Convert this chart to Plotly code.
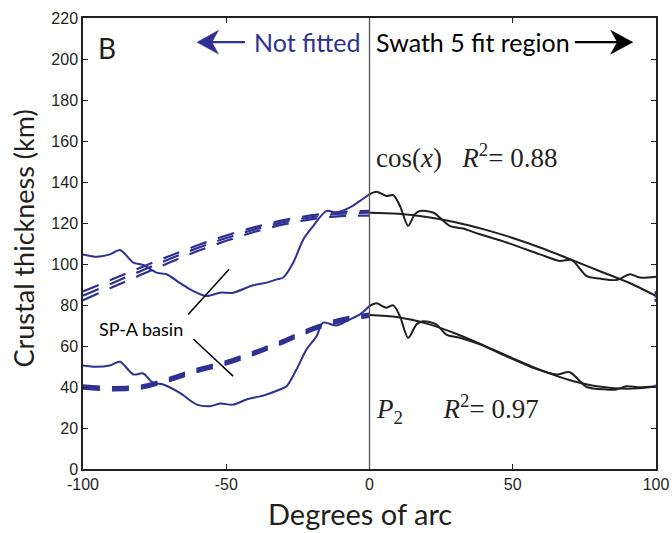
import plotly.graph_objects as go

BLUE = "#2E3192"
INK = "#231F20"

# Crustal thickness profiles (km) along the swath, west of the fit region (blue)
upper_west_x = [-100, -95.2, -90.6, -87.1, -82.4, -79, -74.3, -70.8, -66.2, -61.5, -56.8, -52.2,
                -47.6, -40.6, -35.9, -32.4, -30.1, -26.6, -23.1, -19.6, -15, -11.5, -6.8, -3.3, 0]
upper_west_y = [104.7, 103.5, 104.7, 106.8, 100.7, 99.5, 95.8, 95, 90.8, 86.8, 84.4, 86,
                86, 89.6, 90.9, 92.5, 93.4, 100.7, 112, 118.6, 125.9, 125.1, 127.6, 130.8, 134]
lower_west_x = [-100, -96.4, -90.6, -87.1, -82.4, -79, -75.5, -72, -66.2, -60.3, -55.7, -52.2,
                -47.6, -42.9, -37.1, -31.3, -28.9, -25.5, -22, -18.5, -16.2, -11.5, -6.8, -3.3, 0]
lower_west_y = [50.5, 49.9, 50.5, 52.3, 46.1, 46.6, 42, 41.2, 37.1, 31.4, 30.6, 31.9,
                31.4, 33.9, 35.8, 38.8, 40.4, 48.5, 58.3, 64.8, 71.4, 70, 73, 75.4, 79.5]

# Profiles inside the swath 5 fit region (black)
upper_east_x = [0, 2.4, 5.9, 8.3, 10.6, 13.5, 15.8, 17.6, 22.2, 28, 32.7, 38.5, 47.8, 59.5,
                66.4, 70.5, 75.8, 80.4, 86.2, 90.9, 94.3, 100]
upper_east_y = [134, 135.2, 133.2, 133.6, 128.4, 118.6, 124.3, 125.9, 125.1, 118.6, 117.3, 114.5,
                110.5, 104.7, 101.5, 102, 94.1, 92.9, 92.2, 95, 93.4, 93.8]
lower_east_x = [0, 2.4, 5.9, 8.3, 10.6, 13.5, 16.4, 18.7, 23.3, 26.8, 31.5, 38.5, 47.8, 57.1,
                65.3, 69.9, 75.8, 82.7, 86.2, 89.7, 94.3, 100]
lower_east_y = [79.5, 80.8, 78.7, 79.8, 74.6, 64, 70.5, 72.1, 70.5, 65.6, 64, 60.8, 55, 49.4,
                46.1, 47.2, 40, 38.8, 38.8, 40.4, 39.9, 40.4]

# Fitted curves, sampled every 10 degrees
fit_east_x = [0, 10, 20, 30, 40, 50, 60, 70, 80, 90, 100]
cos_fit_y = [125.0, 124.5, 122.9, 120.4, 116.9, 112.7, 107.8, 102.3, 96.7, 91.2, 84.4]
p2_fit_y = [75.1, 74.0, 70.9, 66.1, 60.2, 54.0, 48.1, 43.3, 40.2, 39.1, 40.2]

# Fits carried over the unfitted western side (dashed)
fit_west_x = [-100, -90, -80, -70, -60, -50, -40, -30, -20, -10, 0]
cos_west_hi = [86.6, 92.4, 98.2, 103.8, 109.1, 113.9, 118.0, 121.4, 123.8, 125.4, 125.9]
cos_west_mid = [84.5, 90.5, 96.5, 102.3, 107.8, 112.7, 116.9, 120.4, 122.9, 124.5, 125.0]
cos_west_lo = [82.3, 88.5, 94.6, 100.6, 106.3, 111.3, 115.7, 119.3, 121.9, 123.4, 123.6]
p2_west_hi = [40.8, 40.0, 40.7, 44.4, 49.0, 52.6, 57.5, 63.0, 69.0, 73.4, 75.8]
p2_west_mid = [40.0, 39.2, 39.9, 43.6, 48.2, 51.8, 56.7, 62.2, 68.2, 72.6, 75.0]
p2_west_lo = [39.2, 38.4, 39.1, 42.8, 47.4, 51.0, 55.9, 61.4, 67.4, 71.8, 74.2]

# Fit end values at the eastern edge
edge_y = [86.0, 84.4, 82.3, 40.4]

x_ticks = [-100, -50, 0, 50, 100]
x_tick_text = ["-100", "-50", "0", "50", "100"]
y_ticks = list(range(0, 221, 20))

fig = go.Figure()

for ys in (cos_west_hi, cos_west_mid, cos_west_lo, p2_west_hi, p2_west_mid, p2_west_lo):
    fig.add_trace(go.Scatter(x=fit_west_x, y=ys, mode="lines",
                             line=dict(color=BLUE, width=2.2, dash="17px,12px", shape="spline")))

fig.add_trace(go.Scatter(x=upper_west_x, y=upper_west_y, mode="lines",
                         line=dict(color=BLUE, width=2, shape="spline", smoothing=0.8)))
fig.add_trace(go.Scatter(x=lower_west_x, y=lower_west_y, mode="lines",
                         line=dict(color=BLUE, width=2, shape="spline", smoothing=0.8)))

fig.add_trace(go.Scatter(x=fit_east_x, y=cos_fit_y, mode="lines",
                         line=dict(color=INK, width=2, shape="spline")))
fig.add_trace(go.Scatter(x=fit_east_x, y=p2_fit_y, mode="lines",
                         line=dict(color=INK, width=2, shape="spline")))
fig.add_trace(go.Scatter(x=upper_east_x, y=upper_east_y, mode="lines",
                         line=dict(color=INK, width=2, shape="spline", smoothing=0.8)))
fig.add_trace(go.Scatter(x=lower_east_x, y=lower_east_y, mode="lines",
                         line=dict(color=INK, width=2, shape="spline", smoothing=0.8)))

fig.add_trace(go.Scatter(x=[100] * len(edge_y), y=edge_y, mode="markers", cliponaxis=False,
                         marker=dict(color=BLUE, size=3, symbol="square")))

# Boundary of the fit region
fig.add_shape(type="line", xref="x", yref="paper", x0=0, x1=0, y0=0, y1=1,
              line=dict(color="#555555", width=1.3))

# Pointer lines for the basin label
fig.add_shape(type="line", xref="x", yref="y", x0=-63.3, y0=75.4, x1=-49.0, y1=97.4,
              line=dict(color="black", width=1.5))
fig.add_shape(type="line", xref="x", yref="y", x0=-61.5, y0=63.4, x1=-47.6, y1=45.3,
              line=dict(color="black", width=1.5))

# Direction arrows in the header: shaft plus a notched head
arrow_y = 208.2
fig.add_shape(type="line", xref="x", yref="y", x0=-55.5, y0=arrow_y, x1=-43.5, y1=arrow_y,
              line=dict(color=BLUE, width=2.3))
fig.add_shape(type="path", xref="x", yref="y",
              path=f"M -60.2 {arrow_y} L -52.7 {arrow_y + 5.8} L -55.0 {arrow_y} "
                   f"L -52.7 {arrow_y - 5.8} Z",
              fillcolor=BLUE, line=dict(color=BLUE, width=0.5))
fig.add_shape(type="line", xref="x", yref="y", x0=71.7, y0=arrow_y, x1=86.8, y1=arrow_y,
              line=dict(color="black", width=2.3))
fig.add_shape(type="path", xref="x", yref="y",
              path=f"M 91.9 {arrow_y} L 84.2 {arrow_y + 5.8} L 86.5 {arrow_y} "
                   f"L 84.2 {arrow_y - 5.8} Z",
              fillcolor="black", line=dict(color="black", width=0.5))

sans = "Lato, 'Open Sans', sans-serif"
serif = "'Liberation Serif', 'Times New Roman', serif"

ann = [
    dict(x=-95.3, y=205.3, text="B", showarrow=False, xanchor="left", yanchor="middle",
         font=dict(family=sans, size=28, color=INK)),
    dict(x=-41.0, y=arrow_y, text="Not fitted", showarrow=False, xanchor="left", yanchor="middle",
         font=dict(family=sans, size=25, color=BLUE)),
    dict(x=1.5, y=arrow_y, text="Swath 5 fit region", showarrow=False, xanchor="left",
         yanchor="middle", font=dict(family=sans, size=25, color="black")),
    dict(x=1.5, y=152.5, text="cos(<i>x</i>)&nbsp;&nbsp;&nbsp;<i>R</i><sup>2</sup>= 0.88",
         showarrow=False, xanchor="left", yanchor="middle",
         font=dict(family=serif, size=27, color=INK)),
    dict(x=1.5, y=29.5,
         text="<i>P</i><sub>2</sub>&nbsp;&nbsp;&nbsp;&nbsp;&nbsp;&nbsp;<i>R</i><sup>2</sup>= 0.97",
         showarrow=False, xanchor="left", yanchor="middle",
         font=dict(family=serif, size=27, color=INK)),
    dict(x=-79.8, y=68.4, text="SP-A basin", showarrow=False, xanchor="center", yanchor="middle",
         font=dict(family=sans, size=18, color="black")),
    dict(xref="paper", yref="paper", x=-0.104, y=0.512, text="Crustal thickness (km)",
         textangle=-90, showarrow=False, xanchor="center", yanchor="middle",
         font=dict(family=sans, size=27, color=INK)),
    dict(xref="paper", yref="paper", x=0.483, y=-0.098, text="Degrees of arc",
         showarrow=False, xanchor="center", yanchor="middle",
         font=dict(family=sans, size=29, color=INK)),
]
fig.update_layout(annotations=ann)

axis_common = dict(showline=True, linecolor=INK, linewidth=1.5, mirror="ticks",
                   ticks="inside", ticklen=5, tickwidth=1.2, tickcolor=INK,
                   showgrid=False, zeroline=False, automargin=False,
                   tickfont=dict(family="'Liberation Sans', Arial, sans-serif", size=16, color=INK))

fig.update_xaxes(range=[-100, 100], tickvals=x_ticks, ticktext=x_tick_text, **axis_common)
fig.update_yaxes(range=[0, 220], tickvals=y_ticks, **axis_common)

fig.update_layout(width=672, height=533, showlegend=False,
                  margin=dict(l=83, r=16, t=18, b=64),
                  paper_bgcolor="white", plot_bgcolor="white")

fig.write_html("out.html")
